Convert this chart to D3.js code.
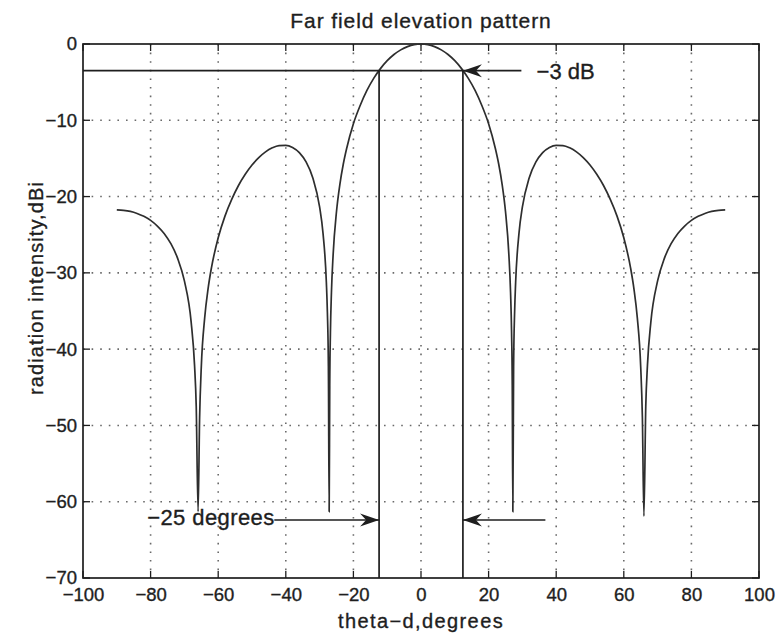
<!DOCTYPE html>
<html>
<head>
<meta charset="utf-8">
<script src="https://cdn.jsdelivr.net/npm/d3@7"></script>
<style>
  html, body { margin: 0; padding: 0; background: #fff; }
  svg { display: block; font-family: "Liberation Sans", Arial, Helvetica, sans-serif; }
  svg text { stroke: #1e1e1e; stroke-width: 0.35px; }
</style>
</head>
<body>
<svg id="chart" width="778" height="635"></svg>
<script>
// ---------- data ----------
const thetaDeg = [
  -90,-88,-86,-84,-82,-80,-78,-76,-74,-72,
  -70,-68,-67,-66.5,-65.95,-65.5,-65,-64,-63,-62,
  -60,-58,-56,-54,-52,-50,-48,-46,-44,-42,
  -40,-38,-36,-34,-32,-30,-29,-28,-27.7,-27.4,
  -27.17,-27,-26.8,-26.5,-26,-25,-24,-23,-22,-20,
  -18,-16,-14,-12,-10,-8,-6,-4,-2,
  0,2,4,6,8,10,12,14,16,18,
  20,22,23,24,25,26,26.5,26.8,27,27.17,
  27.4,27.7,28,29,30,32,34,36,38,40,
  42,44,46,48,50,52,54,56,58,60,
  62,63,64,65,65.5,65.95,66.5,67,68,70,
  72,74,76,78,80,82,84,86,88,90
];
const gainDb = [
  -21.75,-21.81,-21.95,-22.21,-22.59,-23.12,-23.86,-24.83,-26.18,-28.10,
  -31.06,-36.45,-42.1,-47.5,-61.3,-49.0,-42.3,-35.9,-32.09,-29.34,
  -25.40,-22.56,-20.37,-18.55,-17.08,-15.86,-14.89,-14.14,-13.61,-13.31,
  -13.28,-13.56,-14.24,-15.46,-17.56,-21.36,-24.76,-31.25,-35.1,-42.2,
  -61.3,-44.8,-37.9,-32.6,-27.64,-21.96,-18.39,-15.76,-13.7,-10.45,
  -8.06,-6.09,-4.51,-3.23,-2.19,-1.38,-0.77,-0.34,-0.08,
  0,-0.08,-0.34,-0.77,-1.38,-2.19,-3.23,-4.51,-6.09,-8.06,
  -10.45,-13.7,-15.76,-18.39,-21.96,-27.64,-32.6,-37.9,-44.8,-61.3,
  -42.2,-35.1,-31.25,-24.76,-21.36,-17.56,-15.46,-14.24,-13.56,-13.28,
  -13.31,-13.61,-14.14,-14.89,-15.86,-17.08,-18.55,-20.37,-22.56,-25.40,
  -29.34,-32.09,-35.9,-42.3,-49.0,-61.9,-47.5,-42.1,-36.45,-31.06,
  -28.10,-26.18,-24.83,-23.86,-23.12,-22.59,-22.21,-21.95,-21.81,-21.75
];
const xTicks = [-100,-80,-60,-40,-20,0,20,40,60,80,100];
const yTicks = [0,-10,-20,-30,-40,-50,-60,-70];
const halfPowerDb = -3.5;
const beamEdges = [-12.4, 12.4];
const titleText = "Far field elevation pattern";
const xLabelText = "theta\u2212d,degrees";
const yLabelText = "radiation intensity,dBi";
const dbLabelText = "\u22123 dB";
const degLabelText = "\u221225 degrees";

// ---------- layout ----------
const W = 778, H = 635;
const margin = {left: 83, right: 19, top: 44, bottom: 57};
const pw = W - margin.left - margin.right;
const ph = H - margin.top - margin.bottom;
const ink = "#1e1e1e";

const svg = d3.select("#chart");
svg.append("rect").attr("width", W).attr("height", H).attr("fill", "#fff");
const g = svg.append("g").attr("transform", `translate(${margin.left},${margin.top})`);

const x = d3.scaleLinear().domain([-100, 100]).range([0, pw]);
const y = d3.scaleLinear().domain([-70, 0]).range([ph, 0]);

// grid
const grid = g.append("g").attr("stroke", "#6a6a6a").attr("stroke-width", 1.6)
  .attr("stroke-dasharray", "1.6 7").attr("fill", "none");
grid.selectAll(".gx").data(xTicks.slice(1, -1)).join("line")
  .attr("x1", d => x(d)).attr("x2", d => x(d)).attr("y1", 0).attr("y2", ph);
grid.selectAll(".gy").data(yTicks.slice(1, -1)).join("line")
  .attr("y1", d => y(d)).attr("y2", d => y(d)).attr("x1", 0).attr("x2", pw);

// axes (labels) via d3 axes
const fmt = d => d3.format("d")(d);
const xAxis = g.append("g").attr("transform", `translate(0,${ph})`)
  .call(d3.axisBottom(x).tickValues(xTicks).tickSize(0).tickPadding(10).tickFormat(fmt));
const yAxis = g.append("g")
  .call(d3.axisLeft(y).tickValues(yTicks).tickSize(0).tickPadding(6).tickFormat(fmt));
[xAxis, yAxis].forEach(a => {
  a.select(".domain").remove();
  a.selectAll("text").attr("font-size", 18.5).attr("fill", ink)
    .attr("font-family", "Liberation Sans, Arial, sans-serif");
});

// inward ticks on all four sides
const tk = 7;
const ticks = g.append("g").attr("stroke", ink).attr("stroke-width", 1.3);
xTicks.forEach(v => {
  ticks.append("line").attr("x1", x(v)).attr("x2", x(v)).attr("y1", ph).attr("y2", ph - tk);
  ticks.append("line").attr("x1", x(v)).attr("x2", x(v)).attr("y1", 0).attr("y2", tk);
});
yTicks.forEach(v => {
  ticks.append("line").attr("y1", y(v)).attr("y2", y(v)).attr("x1", 0).attr("x2", tk);
  ticks.append("line").attr("y1", y(v)).attr("y2", y(v)).attr("x1", pw).attr("x2", pw - tk);
});

// frame
g.append("rect").attr("x", 0).attr("y", 0).attr("width", pw).attr("height", ph)
  .attr("fill", "none").attr("stroke", ink).attr("stroke-width", 1.7);

// pattern curve
const pts = thetaDeg.map((t, i) => [t, gainDb[i]]);
const line = d3.line().x(d => x(d[0])).y(d => y(d[1])).curve(d3.curveMonotoneX);
g.append("path").datum(pts).attr("d", line)
  .attr("fill", "none").attr("stroke", "#2e2e2e").attr("stroke-width", 1.7);

// annotation lines
const ann = g.append("g").attr("stroke", ink).attr("stroke-width", 1.7).attr("fill", "none");
ann.append("line").attr("x1", x(-100)).attr("x2", x(beamEdges[1]))
  .attr("y1", y(halfPowerDb)).attr("y2", y(halfPowerDb));
beamEdges.forEach(b => {
  ann.append("line").attr("x1", x(b)).attr("x2", x(b))
    .attr("y1", y(halfPowerDb)).attr("y2", y(-70));
});

// arrows
function arrow(x0, y0, x1, y1) {
  const gx0 = x(x0), gy0 = y(y0), gx1 = x(x1), gy1 = y(y1);
  g.append("line").attr("x1", gx0).attr("y1", gy0).attr("x2", gx1).attr("y2", gy1)
    .attr("stroke", ink).attr("stroke-width", 1.7);
  const ang = Math.atan2(gy1 - gy0, gx1 - gx0);
  const L = 19, Wd = 6.5, N = 13;
  const c = Math.cos(ang), s = Math.sin(ang);
  const p = [
    [gx1, gy1],
    [gx1 - L * c + Wd * s, gy1 - L * s - Wd * c],
    [gx1 - N * c, gy1 - N * s],
    [gx1 - L * c - Wd * s, gy1 - L * s + Wd * c]
  ];
  g.append("path").attr("d", "M" + p.map(q => q.join(",")).join("L") + "Z")
    .attr("fill", ink).attr("stroke", "none");
}
arrow(29.7, halfPowerDb, beamEdges[1], halfPowerDb);
arrow(-43.4, -62.4, beamEdges[0], -62.4);
arrow(36.8, -62.4, beamEdges[1], -62.4);

// annotation texts
g.append("text").attr("x", x(34.2)).attr("y", y(halfPowerDb)).attr("dy", "0.36em")
  .attr("font-size", 22).attr("fill", ink).text(dbLabelText);
g.append("text").attr("x", x(-81)).attr("y", y(-63.05))
  .attr("font-size", 22).attr("letter-spacing", 0.4).attr("fill", ink).text(degLabelText);

// title and axis labels
svg.append("text").attr("x", margin.left + pw / 2).attr("y", 28).attr("text-anchor", "middle")
  .attr("font-size", 21).attr("letter-spacing", 0.9).attr("fill", ink).text(titleText);
svg.append("text").attr("x", margin.left + pw / 2).attr("y", 628).attr("text-anchor", "middle")
  .attr("font-size", 20).attr("letter-spacing", 1.4).attr("fill", ink).text(xLabelText);
svg.append("text").attr("transform", "translate(43,288) rotate(-90)").attr("text-anchor", "middle")
  .attr("font-size", 20).attr("letter-spacing", 1.1).attr("fill", ink).text(yLabelText);
</script>
</body>
</html>
